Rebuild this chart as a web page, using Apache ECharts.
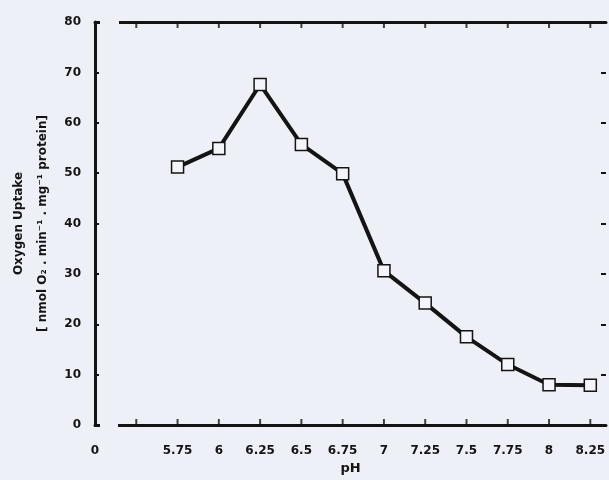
<!DOCTYPE html>
<html>
<head>
<meta charset="utf-8">
<script src="https://cdn.jsdelivr.net/npm/echarts@6/dist/echarts.min.js"></script>
<style>
  html, body { margin: 0; padding: 0; background: #eef0f7; }
  #container { width: 609px; height: 480px; }
</style>
</head>
<body>
<div id="container"></div>
<script>
// pH categories (index 1 is the axis break, no label)
var phLabels = ['0', '', '5.75', '6', '6.25', '6.5', '6.75', '7', '7.25', '7.5', '7.75', '8', '8.25'];
// oxygen uptake, one per pH from 5.75 on
var uptake = [51.2, 54.9, 67.6, 55.7, 49.9, 30.6, 24.2, 17.5, 12.0, 8.0, 7.9];
var firstIndex = 2;
var yMin = 0, yMax = 80;

var bg = '#eef0f7';
var ink = '#141414';
var font = 'DejaVu Sans';

var points = [];
for (var i = 0; i < uptake.length; i++) {
  points.push([firstIndex + i, uptake[i]]);
}
// little tick marks on the bottom and top frame lines, one per label slot
var bottomTicks = [], topTicks = [];
for (var k = 1; k < phLabels.length; k++) {
  bottomTicks.push([k, yMin]);
  topTicks.push([k, yMax]);
}

var dom = document.getElementById('container');
var myChart = echarts.init(dom);

var option = {
  backgroundColor: bg,
  animation: false,
  grid: { left: 95, right: 0, top: 22, bottom: 55 },
  xAxis: [
    {
      type: 'value',
      min: 0,
      max: 12.38,
      interval: 1,
      name: 'pH',
      nameLocation: 'middle',
      nameGap: 36,
      nameTextStyle: { color: ink, fontFamily: font, fontWeight: 'bold', fontSize: 13 },
      axisLine: { show: true, onZero: false, lineStyle: { color: ink, width: 3 } },
      axisTick: { show: false },
      axisLabel: {
        color: ink, fontFamily: font, fontWeight: 'bold', fontSize: 12, margin: 20,
        formatter: function (v) { return phLabels[v] || ''; }
      },
      splitLine: { show: false }
    },
    {
      type: 'value',
      position: 'top',
      min: 0,
      max: 12.38,
      interval: 1,
      axisLine: { show: true, onZero: false, lineStyle: { color: ink, width: 3 } },
      axisTick: { show: false },
      axisLabel: { show: false },
      splitLine: { show: false }
    }
  ],
  yAxis: [
    {
      type: 'value',
      min: yMin,
      max: yMax,
      interval: 10,
      name: '{a|Oxygen Uptake}\n{a|[ nmol O₂ . min⁻¹ . mg⁻¹ protein]}',
      nameLocation: 'middle',
      nameGap: 40,
      nameTextStyle: {
        rich: {
          a: { color: ink, fontFamily: font, fontWeight: 'bold', fontSize: 12, lineHeight: 24 }
        }
      },
      axisLine: { show: true, onZero: false, lineStyle: { color: ink, width: 3 } },
      axisTick: { show: true, inside: true, length: 4, lineStyle: { color: ink, width: 2 } },
      axisLabel: { color: ink, fontFamily: font, fontWeight: 'bold', fontSize: 12, margin: 14 },
      splitLine: { show: false }
    },
    {
      type: 'value',
      position: 'right',
      min: yMin,
      max: yMax,
      interval: 10,
      axisLine: { show: false, onZero: false },
      axisTick: { show: true, inside: true, length: 5, lineStyle: { color: ink, width: 2 } },
      axisLabel: { show: false },
      splitLine: { show: false }
    }
  ],
  // the breaks between the left axis and the top / bottom lines
  graphic: [
    { type: 'rect', z: 100, shape: { x: 100, y: 420, width: 18, height: 10 }, style: { fill: bg } },
    { type: 'rect', z: 100, shape: { x: 100, y: 17, width: 19, height: 10 }, style: { fill: bg } }
  ],
  series: [
    {
      name: 'Oxygen Uptake',
      type: 'line',
      data: points,
      symbol: 'rect',
      symbolSize: 12,
      lineStyle: { color: ink, width: 4 },
      itemStyle: { color: '#f4f5fa', borderColor: ink, borderWidth: 1.5 },
      z: 5
    },
    {
      name: 'bottom ticks',
      type: 'scatter',
      data: bottomTicks,
      symbol: 'rect',
      symbolSize: [2, 6],
      symbolOffset: [0, -3],
      clip: false,
      silent: true,
      itemStyle: { color: ink },
      z: 4
    },
    {
      name: 'top ticks',
      type: 'scatter',
      data: topTicks,
      symbol: 'rect',
      symbolSize: [2, 6],
      symbolOffset: [0, 3],
      clip: false,
      silent: true,
      itemStyle: { color: ink },
      z: 4
    }
  ]
};

myChart.setOption(option);
</script>
</body>
</html>
